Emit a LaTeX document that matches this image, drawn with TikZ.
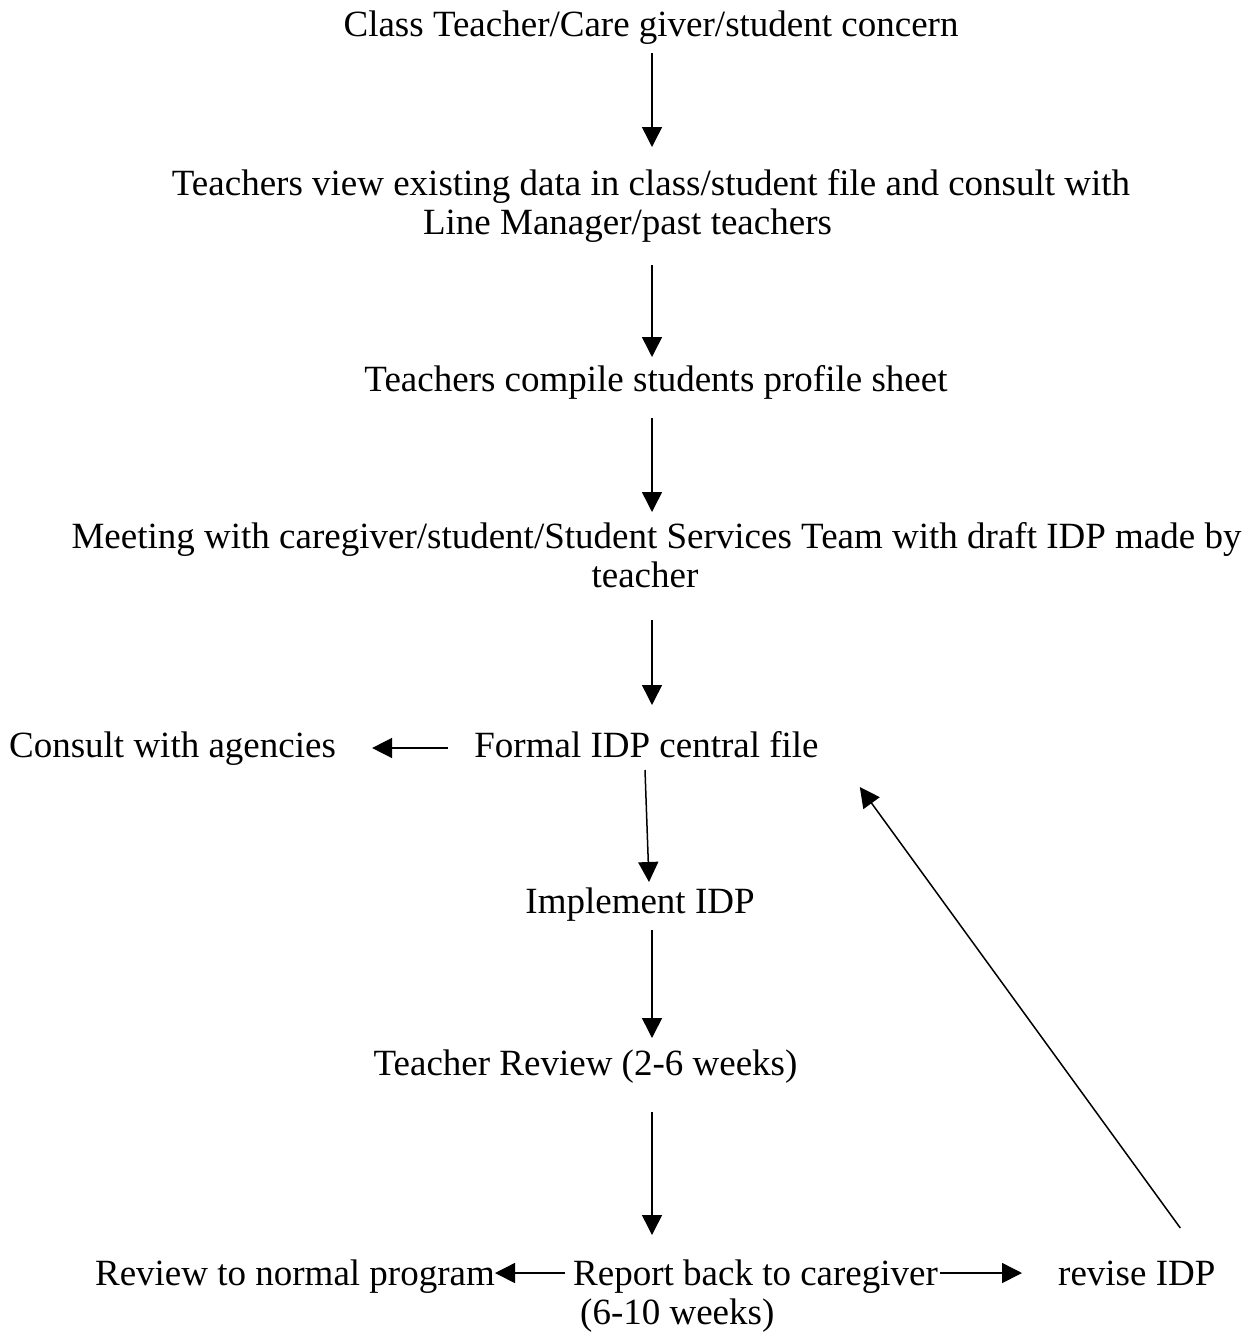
\documentclass[tikz,border=0pt]{standalone}
\usepackage{fontspec}
\setmainfont{Liberation Serif}
\usetikzlibrary{arrows.meta,calc}
\begin{document}
\begin{tikzpicture}[x=1pt,y=-1pt,
  lbl/.style={anchor=base, inner sep=0pt, font=\fontsize{37}{39.5}\selectfont},
  arr/.style={line width=1.5pt, -{Triangle[length=20pt,width=20pt]}}]
\useasboundingbox (0,0) rectangle (1257,1333);
\coordinate (spine) at (652,0);
\coordinate (spineA) at (645,0);
\coordinate (spineB) at (649,0);

\node[lbl] (n1) at (651,36) {Class Teacher/Care giver/student concern};
\node[lbl] (n2) at (651,195) {\begin{tabular}[t]{@{}c@{}}Teachers view existing data in class/student file and consult with\\ Line Manager/past teachers\hspace*{47pt}\end{tabular}};
\node[lbl] (n3) at (656,391) {Teachers compile students profile sheet};
\node[lbl] (n4) at (656.5,548) {\begin{tabular}[t]{@{}c@{}}Meeting with caregiver/student/Student Services Team with draft IDP made by\\ teacher\hspace*{23pt}\end{tabular}};
\node[lbl] (n5) at (646.5,757) {Formal IDP central file};
\node[lbl] (nc) at (172.5,757) {Consult with agencies};
\node[lbl] (n6) at (640,913) {Implement IDP};
\node[lbl] (n7) at (585.5,1075) {Teacher Review (2-6 weeks)};
\node[lbl, anchor=base west] (n8) at (573,1285) {\begin{tabular}[t]{@{}l@{}}Report back to caregiver\\ \hspace*{7pt}(6-10 weeks)\end{tabular}};
\node[lbl, anchor=base east] (nr) at (495,1285) {Review to normal program};
\node[lbl, anchor=base west] (nv) at (1058,1285) {revise IDP};

\draw[arr] ($(n1.base -| spine)+(0,17)$) -- ($(n2.base -| spine)+(0,-48)$);
\draw[arr] ($(n2.base -| spine)+(0,70)$) -- ($(n3.base -| spine)+(0,-34)$);
\draw[arr] ($(n3.base -| spine)+(0,27)$) -- ($(n4.base -| spine)+(0,-36)$);
\draw[arr] ($(n4.base -| spine)+(0,72)$) -- ($(n5.base -| spine)+(0,-52)$);
\draw[arr] ($(n5.base -| spineA)+(0,13)$) -- ($(n6.base -| spineB)+(0,-31)$);
\draw[arr] ($(n6.base -| spine)+(0,17)$) -- ($(n7.base -| spine)+(0,-37)$);
\draw[arr] ($(n7.base -| spine)+(0,37)$) -- ($(n8.base -| spine)+(0,-50)$);
\draw[arr] ($(n5.base west)+(-26,-9)$) -- ($(nc.base east)+(36,-9)$);
\draw[arr] ($(n8.base west)+(-8,-12)$) -- ($(nr.base east)+(0,-12)$);
\draw[arr] ($(n8.base east)+(2,-12)$) -- ($(nv.base west)+(-36,-12)$);
\draw[arr] ($(nv.base)+(43.5,-57)$) -- ($(n5.base east)+(41,30)$);
\end{tikzpicture}
\end{document}
